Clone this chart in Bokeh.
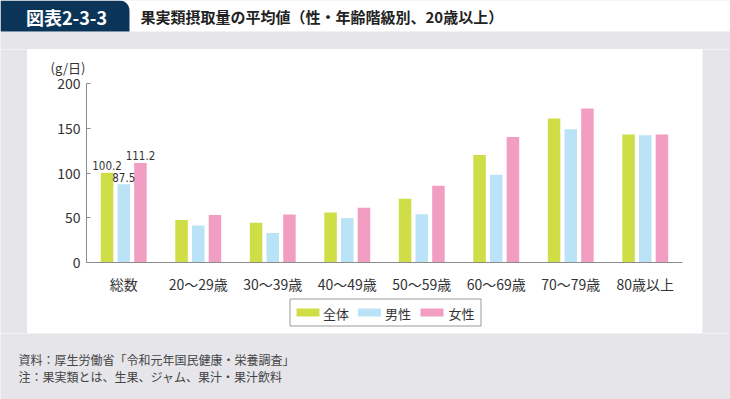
import math
from bokeh.plotting import figure
from bokeh.layouts import column, row
from bokeh.models import FactorRange, Range1d, ColumnDataSource, FixedTicker, Title
from bokeh.transform import dodge
from bokeh.core.properties import value
from bokeh.embed import file_html
from bokeh.resources import INLINE

# ---- data ----
categories = ["総数", "20～29歳", "30～39歳", "40～49歳", "50～59歳", "60～69歳", "70～79歳", "80歳以上"]
series_names = ["全体", "男性", "女性"]
total = [100.2, 47.6, 44.3, 55.8, 71.3, 120.0, 161.0, 143.0]
male = [87.5, 41.4, 33.1, 49.7, 54.0, 98.0, 148.8, 142.3]
female = [111.2, 53.0, 53.6, 61.2, 85.7, 140.1, 172.2, 143.0]
y_ticks = [0, 50, 100, 150, 200]
shown_labels = ["100.2", "87.5", "111.2"]

title_text = "果実類摂取量の平均値（性・年齢階級別、20歳以上）"
tab_text = "図表2-3-3"
unit_text = "(g/日)"
note1 = "資料：厚生労働省「令和元年国民健康・栄養調査」"
note2 = "注：果実類とは、生果、ジャム、果汁・果汁飲料"

JP = "Noto Sans CJK JP"
colors = ["#cfdd47", "#bae3f8", "#f29ec3"]
GRAY = "#e5e5ea"
NAVY = "#0b3558"
TXT = "#333333"
W = 730


def pixel_fig(w, h, bg):
    f = figure(width=w, height=h, x_range=Range1d(0, w), y_range=Range1d(h, 0),
               x_axis_type=None, y_axis_type=None, output_backend="svg", toolbar_location=None,
               min_border=0, frame_align=False)
    f.background_fill_color = bg
    f.border_fill_color = bg
    f.outline_line_color = None
    return f


# ---- header (y 0..49) ----
hdr = pixel_fig(W, 49, GRAY)
hdr.quad(left=[0], right=[W], top=[0], bottom=[31], fill_color="white", line_color=None)
r = 10
cx, cy = 119, 10
arc = [(cx + r * math.cos(math.radians(a)), cy - r * math.sin(math.radians(a))) for a in range(90, -1, -10)]
tab_x = [0, cx] + [pt[0] for pt in arc] + [129, 0]
tab_y = [0, 0] + [pt[1] for pt in arc] + [31, 31]
hdr.patch(tab_x, tab_y, fill_color=NAVY, line_color=None)
hdr.text(x=[66], y=[16], text=[tab_text], text_font=value(JP), text_font_size="18px",
         text_font_style="bold", text_color="white", text_align="center", text_baseline="middle")
hdr.text(x=[140], y=[16], text=[title_text], text_font=value(JP), text_font_size="15px",
         text_font_style="bold", text_color="#222222", text_align="left", text_baseline="middle")

# ---- white panel (x 27..702, y 49..333) ----
PW = 675
src = ColumnDataSource(dict(cat=categories, total=total, male=male, female=female))
p = figure(x_range=FactorRange(*categories), y_range=Range1d(0, 200),
           width=PW, height=247, output_backend="svg", toolbar_location=None, frame_align=False,
           min_border_left=59, min_border_right=20, min_border_top=34, min_border_bottom=28)
p.border_fill_color = "white"
p.background_fill_color = "white"
p.outline_line_color = None
p.title = Title(text=unit_text, align="left", offset=-36, standoff=13, vertical_align="bottom",
                text_font=JP, text_font_size="13px", text_font_style="normal", text_color=TXT)

bw = 0.168
offs = [-0.224, 0.0, 0.224]
fields = ["total", "male", "female"]
for f, o, c in zip(fields, offs, colors):
    p.vbar(x=dodge("cat", o, range=p.x_range), top=f, width=bw, source=src,
           fill_color=c, line_color=None)

first_vals = [total[0], male[0], female[0]]
for lab, v, o in zip(shown_labels, first_vals, offs):
    ls = ColumnDataSource(dict(cat=[categories[0]], y=[v], t=[lab]))
    p.text(x=dodge("cat", o, range=p.x_range), y="y", text="t", source=ls,
           text_font=value("DejaVu Sans Condensed"), text_font_size="11.5px", text_color=TXT,
           text_align="center", text_baseline="alphabetic", y_offset=-7)

p.xgrid.grid_line_color = None
p.ygrid.grid_line_color = None
p.yaxis.ticker = FixedTicker(ticks=y_ticks)
p.yaxis.minor_tick_line_color = None
p.yaxis.major_tick_in = 4
p.yaxis.major_tick_out = 0
p.yaxis.major_label_standoff = 6
for ax in (p.xaxis, p.yaxis):
    ax.axis_line_color = "#8c8c8c"
    ax.major_tick_line_color = "#8c8c8c"
    ax.major_label_text_font = JP
    ax.major_label_text_font_size = "14px"
    ax.major_label_text_color = TXT
p.xaxis.major_tick_line_color = None
p.xaxis.major_label_standoff = 5

# legend piece (y 296..333)
leg = pixel_fig(PW, 37, "white")
leg.quad(left=[262.5], right=[453.5], top=[2.5], bottom=[29.5], fill_color="white",
         line_color="#9a9a9a", line_width=1)
sw_left = [269, 330.5, 393]
txt_x = [295.5, 357.5, 421]
leg.quad(left=sw_left, right=[s + 23 for s in sw_left], top=[12] * 3, bottom=[20] * 3,
         fill_color=colors, line_color=None)
leg.text(x=txt_x, y=[16.5] * 3, text=series_names, text_font=value(JP), text_font_size="13px",
         text_color=TXT, text_align="left", text_baseline="middle")

panel = column(p, leg, spacing=0)
lg = pixel_fig(27, 284, GRAY)
rg = pixel_fig(28, 284, GRAY)

# ---- footer (y 333..399) ----
ftr = pixel_fig(W, 66, GRAY)
ftr.text(x=[18, 18], y=[26, 43], text=[note1, note2], text_font=value(JP), text_font_size="12px",
         text_color="#444444", text_align="left", text_baseline="middle")

layout = column(hdr, row(lg, panel, rg, spacing=0), ftr, spacing=0)
open("out.html", "w").write(file_html(layout, INLINE))
